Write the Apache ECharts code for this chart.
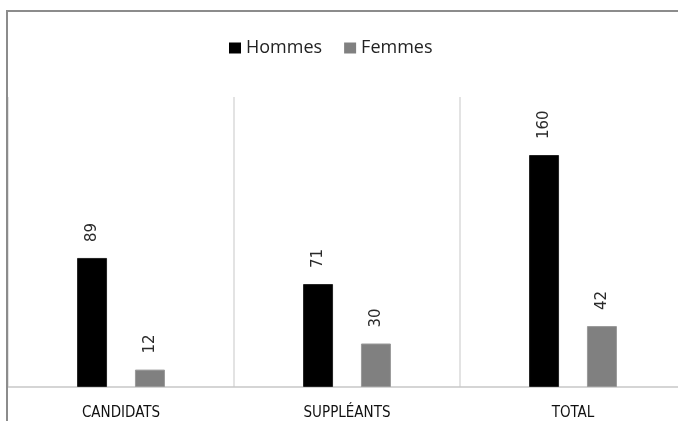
<!DOCTYPE html>
<html>
<head>
<meta charset="utf-8">
<script src="https://cdn.jsdelivr.net/npm/echarts@6/dist/echarts.min.js"></script>
<style>html,body{margin:0;padding:0;background:#fff;overflow:hidden}#c{width:686px;height:421px}</style>
</head>
<body>
<div id="c"></div>
<script>
var categories = ['CANDIDATS', 'SUPPLÉANTS', 'TOTAL'];
var hommes = [89, 71, 160];
var femmes = [12, 30, 42];
var seriesNames = ['Hommes', 'Femmes'];

var chart = echarts.init(document.getElementById('c'));
var labelOpt = {
  show: true, position: 'top', rotate: 90, align: 'left', verticalAlign: 'middle',
  distance: 16, fontFamily: 'DejaVu Sans', fontSize: 15, color: '#2a2a2a'
};
chart.setOption({
  animation: false,
  backgroundColor: '#fff',
  graphic: [{
    type: 'rect', shape: {x: 7, y: 11, width: 700, height: 440},
    style: {fill: 'none', stroke: '#8c8c8c', lineWidth: 2}, z: 100
  }],
  legend: {
    data: seriesNames, top: 39, left: 229, padding: 0, itemWidth: 12, itemHeight: 11, itemGap: 22,
    icon: 'rect', itemStyle: {borderWidth: 0},
    textStyle: {fontFamily: 'Open Sans', fontSize: 18, color: '#222', padding: [0, 0, 0, 0]}
  },
  grid: {left: 8, right: 0, top: 97, bottom: 34, containLabel: false},
  xAxis: {
    type: 'category', data: categories,
    axisLine: {lineStyle: {color: '#c8c8c8', width: 1.5}},
    axisTick: {show: false},
    splitLine: {show: true, lineStyle: {color: '#dadada', width: 1.5}},
    axisLabel: {fontFamily: 'DejaVu Sans Condensed', fontSize: 15, color: '#111', margin: 19}
  },
  yAxis: {type: 'value', min: 0, max: 200, show: false, splitLine: {show: false}},
  series: [
    {name: seriesNames[0], type: 'bar', data: hommes, barWidth: 30, barGap: '93%',
     itemStyle: {color: '#000', borderColor: '#222', borderWidth: 1}, label: labelOpt},
    {name: seriesNames[1], type: 'bar', data: femmes, barWidth: 30,
     itemStyle: {color: '#808080', borderColor: '#999', borderWidth: 1}, label: labelOpt}
  ]
});
</script>
</body>
</html>
